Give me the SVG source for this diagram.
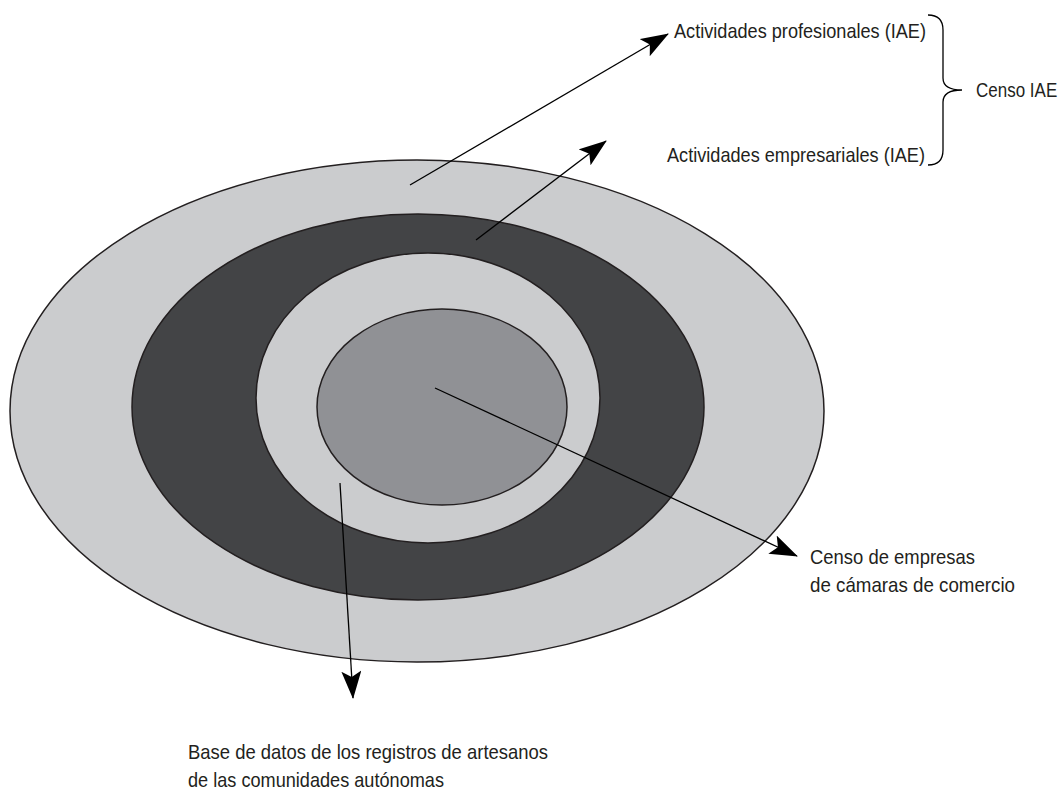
<svg xmlns="http://www.w3.org/2000/svg" width="1061" height="800" viewBox="0 0 1061 800">
<style>
.t{font-family:"Liberation Sans",Arial,sans-serif;font-size:21px;fill:#231f20}
.ring{stroke:#231f20;stroke-width:1.5}
.c{stroke:#000;stroke-width:1.3;fill:none}
</style>
<defs>
<marker id="ah2" markerWidth="28" markerHeight="20" refX="27" refY="10" orient="auto" markerUnits="userSpaceOnUse" viewBox="0 0 28 20">
<path d="M0,0 L28,10 L0,20 L6,10 Z" fill="#000"/>
</marker>
</defs>
<g id="outer"><ellipse class="ring" cx="417" cy="411" rx="407" ry="251" fill="#cbccce"/></g>
<g id="dark"><ellipse class="ring" cx="418" cy="407" rx="286" ry="193" fill="#434446"/></g>
<g id="middle"><ellipse class="ring" cx="428" cy="398" rx="172" ry="145" fill="#cbccce"/></g>
<g id="inner"><ellipse class="ring" cx="442" cy="407" rx="125" ry="98" fill="#909195"/></g>
<g id="connectors">
<line class="c" x1="410" y1="185" x2="668" y2="34" marker-end="url(#ah2)"/>
<line class="c" x1="476" y1="240" x2="606" y2="141" marker-end="url(#ah2)"/>
<line class="c" x1="435" y1="388" x2="797" y2="556" marker-end="url(#ah2)"/>
<line class="c" x1="340" y1="483" x2="353" y2="698" marker-end="url(#ah2)"/>
</g>
<g id="brace"><path d="M928,15 Q943,15 943,30 L943,78 Q943,90 962,90 Q943,90 943,102 L943,150 Q943,165 928,165" class="c"/></g>
<g id="label-prof"><text class="t" x="674" y="38" textLength="252" lengthAdjust="spacingAndGlyphs">Actividades profesionales (IAE)</text></g>
<g id="label-emp"><text class="t" x="667" y="162" textLength="258" lengthAdjust="spacingAndGlyphs">Actividades empresariales (IAE)</text></g>
<g id="label-censo" transform="translate(976,97) scale(1,1.235)"><text class="t" x="0" y="0" style="font-size:17px">Censo IAE</text></g>
<g id="label-camaras"><text class="t" x="810" y="564" textLength="165" lengthAdjust="spacingAndGlyphs">Censo de empresas</text><text class="t" x="810" y="592" textLength="205" lengthAdjust="spacingAndGlyphs">de cámaras de comercio</text></g>
<g id="label-artesanos"><text class="t" x="188" y="759" textLength="360" lengthAdjust="spacingAndGlyphs">Base de datos de los registros de artesanos</text><text class="t" x="188" y="787" textLength="256" lengthAdjust="spacingAndGlyphs">de las comunidades autónomas</text></g>
</svg>
